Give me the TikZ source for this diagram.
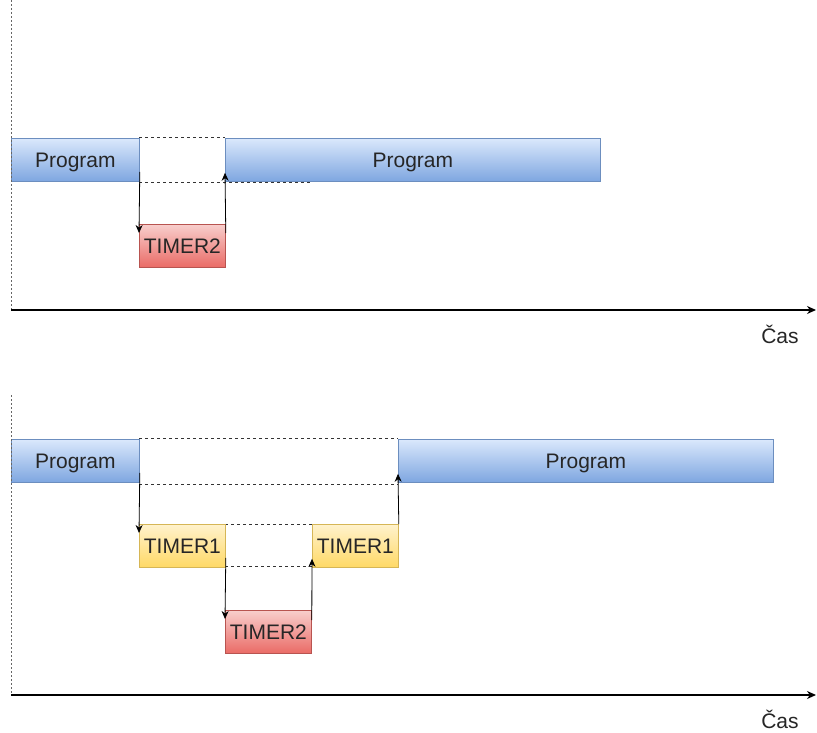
\documentclass[tikz,border=0pt]{standalone}
\usepackage{fontspec}
\setmainfont{Liberation Sans}
\usetikzlibrary{arrows.meta}
\definecolor{progtop}{HTML}{DAE8FC}
\definecolor{progbot}{HTML}{7EA6E0}
\definecolor{progline}{HTML}{6C8EBF}
\definecolor{onetop}{HTML}{FFF2CC}
\definecolor{onebot}{HTML}{FFD966}
\definecolor{oneline}{HTML}{D6B656}
\definecolor{twotop}{HTML}{F8CECC}
\definecolor{twobot}{HTML}{EA6B66}
\definecolor{twoline}{HTML}{B85450}
\begin{document}
\begin{tikzpicture}[
            x=1pt,y=-1pt,
            every node/.style={black!85,font=\fontsize{21}{25}\selectfont},
            box/.style={anchor=north west,minimum height=43pt,minimum width=86pt,inner sep=0pt,
                text height=15pt,text depth=0pt,line width=0.8pt},
            prog/.style={box,draw=progline,top color=progtop,bottom color=progbot},
            timerone/.style={box,draw=oneline,top color=onetop,bottom color=onebot},
            timertwo/.style={box,draw=twoline,top color=twotop,bottom color=twobot},
            jump/.style={-{Stealth[length=8pt,width=7pt]},line width=0.8pt},
            gap/.style={black!80,line width=0.7pt,dash pattern=on 3pt off 3pt},
            axis/.style={-{Stealth[length=9pt,width=8pt]},line width=1.5pt},
            guide/.style={black!60,line width=0.8pt,dash pattern=on 2pt off 2pt}
        ]
            \useasboundingbox (0,0) rectangle (817,733);

            % upper run
            \draw [gap] (139,137) -- (225,137);
            \draw [gap] (139,182) -- (312,182);
            \node [prog,minimum width=128pt] (pa) at (11,138) {Program};
            \node [prog,minimum width=375pt] (pb) at (225,138) {Program};
            \node [timertwo] (ta) at (139,224) {TIMER2};
            \draw [jump] ([yshift=10pt]pa.south east) -- ([yshift=-9pt]ta.north west);
            \draw [jump] ([yshift=-9pt]ta.north east) -- ([yshift=9pt]pb.south west);

            \coordinate (ga) at (11,0);
            \coordinate (oa) at (11,310);
            \coordinate (ea) at (816,310);
            \draw [guide] (ga) -- (oa);
            \draw [axis] (oa) -- (ea);
            \node (ca) at (780,334) {Čas};

            % lower run
            \draw [gap] (139,438) -- (398,438);
            \draw [gap] (139,484) -- (398,484);
            \draw [gap] (225,524) -- (312,524);
            \draw [gap] (225,566) -- (312,566);
            \node [prog,minimum width=128pt] (pc) at (11,439) {Program};
            \node [prog,minimum width=375pt] (pd) at (398,439) {Program};
            \node [timerone] (tb) at (139,524) {TIMER1};
            \node [timerone] (tc) at (312,524) {TIMER1};
            \node [timertwo] (td) at (225,610) {TIMER2};
            \draw [jump] ([yshift=10pt]pc.south east) -- ([yshift=-9pt]tb.north west);
            \draw [jump] ([yshift=10pt]tb.south east) -- ([yshift=-9pt]td.north west);
            \draw [jump] ([yshift=-10pt]td.north east) -- ([yshift=9pt]tc.south west);
            \draw [jump] (tc.north east) -- ([yshift=9pt]pd.south west);

            \coordinate (gb) at (11,395);
            \coordinate (ob) at (11,695);
            \coordinate (eb) at (816,695);
            \draw [guide] (gb) -- (ob);
            \draw [axis] (ob) -- (eb);
            \node (cb) at (780,719) {Čas};
        \end{tikzpicture}
\end{document}
